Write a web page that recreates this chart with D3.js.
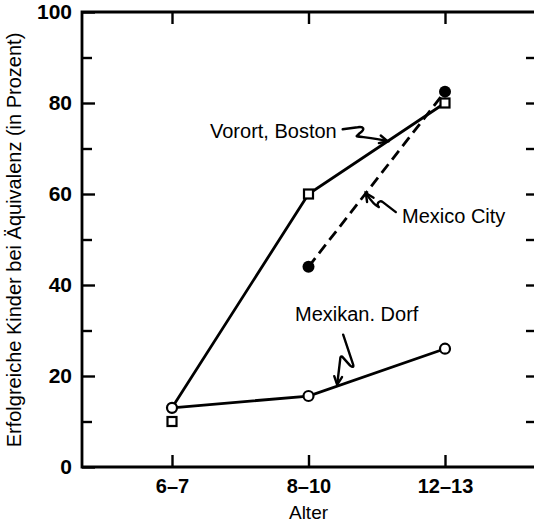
<!DOCTYPE html>
<html>
<head>
<meta charset="utf-8">
<script src="https://cdn.jsdelivr.net/npm/d3@7"></script>
<style>
  body { margin: 0; background: #fff; }
  text { font-family: "Liberation Sans", Arial, sans-serif; fill: #000; }
</style>
</head>
<body>
<div id="figure"></div>
<script>
const width = 534,
      height = 523;

// Data.
const ages = ["6–7", "8–10", "12–13"];
const boston = [10, 60, 80];          // Vorort, Boston (squares)
const mexicoCity = [null, 44, 82.5];  // Mexico City (filled dots, dashed)
const dorf = [13, 15.6, 26];          // Mexikan. Dorf (open circles)
const yMajor = [0, 20, 40, 60, 80, 100];
const yMinor = [10, 30, 50, 70, 90];

// Plot frame.
const frame = {left: 82, right: 534, top: 12, bottom: 467};

const svg = d3.select("#figure").append("svg")
    .attr("width", width)
    .attr("height", height);

// Ages are evenly spaced, so a linear scale over the index.
const x = d3.scaleLinear()
    .domain([0, ages.length - 1])
    .range([172, 445]);

const y = d3.scaleLinear()
    .domain([0, 100])
    .range([frame.bottom, frame.top]);

// Frame lines.
svg.append("path")
    .attr("d", `M${frame.right},${frame.top}H${frame.left}V${frame.bottom}H${frame.right}`)
    .attr("fill", "none")
    .attr("stroke", "#000")
    .attr("stroke-width", 2.8);

// Axes: ticks pointing inward.
function styleAxis(g) {
    g.select(".domain").remove();
    g.selectAll("line").attr("stroke", "#000").attr("stroke-width", 2.4);
}

svg.append("g")
    .attr("transform", `translate(${frame.left},0)`)
    .call(d3.axisLeft(y).tickValues(yMajor).tickSize(-13).tickPadding(10))
    .call(styleAxis)
    .call(g => g.selectAll("text")
        .attr("font-size", 21)
        .attr("font-weight", "bold"));

svg.append("g")
    .attr("transform", `translate(${frame.left},0)`)
    .call(d3.axisLeft(y).tickValues(yMinor).tickSize(-10).tickFormat(""))
    .call(styleAxis);

svg.append("g")
    .attr("transform", `translate(${frame.right},0)`)
    .call(d3.axisRight(y).tickValues(yMajor.concat(yMinor).filter(v => v > 0 && v < 100)).tickSize(-8).tickFormat(""))
    .call(styleAxis);

svg.append("g")
    .attr("transform", `translate(0,${frame.bottom})`)
    .call(d3.axisBottom(x).tickValues(d3.range(ages.length)).tickFormat(i => ages[i]).tickSize(-12).tickPadding(12))
    .call(styleAxis)
    .call(g => g.selectAll("text")
        .attr("font-size", 20)
        .attr("font-weight", "bold"));

svg.append("g")
    .attr("transform", `translate(0,${frame.top})`)
    .call(d3.axisTop(x).tickValues(d3.range(ages.length)).tickFormat("").tickSize(-12))
    .call(styleAxis);

// Axis titles.
svg.append("text")
    .attr("x", x(1))
    .attr("y", 519)
    .attr("text-anchor", "middle")
    .attr("font-size", 19)
    .text("Alter");

svg.append("text")
    .attr("transform", `translate(21,240) rotate(-90)`)
    .attr("text-anchor", "middle")
    .attr("font-size", 20)
    .text("Erfolgreiche Kinder bei Äquivalenz (in Prozent)");

// Lines.
const line = d3.line()
    .defined(d => d.v != null)
    .x(d => x(d.i))
    .y(d => y(d.v));

const toPts = arr => arr.map((v, i) => ({i, v}));

// In the original the Boston line starts at the shared 6-7 point of the village line.
const bostonLine = toPts(boston).map((d, i) => i === 0 ? {i: 0, v: dorf[0]} : d);

const plot = svg.append("g");

plot.append("path")
    .attr("d", line(bostonLine))
    .attr("fill", "none").attr("stroke", "#000").attr("stroke-width", 2.8);

plot.append("path")
    .attr("d", line(toPts(dorf)))
    .attr("fill", "none").attr("stroke", "#000").attr("stroke-width", 2.8);

plot.append("path")
    .attr("d", line(toPts(mexicoCity).filter(d => d.v != null)))
    .attr("fill", "none").attr("stroke", "#000").attr("stroke-width", 2.8)
    .attr("stroke-dasharray", "11,6");

// Markers.
plot.selectAll(".dorf")
    .data(toPts(dorf))
    .join("circle")
    .attr("class", "dorf")
    .attr("cx", d => x(d.i)).attr("cy", d => y(d.v))
    .attr("r", 5)
    .attr("fill", "#fff").attr("stroke", "#000").attr("stroke-width", 2.2);

plot.selectAll(".boston")
    .data(toPts(boston))
    .join("rect")
    .attr("class", "boston")
    .attr("x", d => x(d.i) - 4.5).attr("y", d => y(d.v) - 4.5)
    .attr("width", 9).attr("height", 9)
    .attr("fill", "#fff").attr("stroke", "#000").attr("stroke-width", 2.2);

plot.selectAll(".mexcity")
    .data(toPts(mexicoCity).filter(d => d.v != null))
    .join("circle")
    .attr("class", "mexcity")
    .attr("cx", d => x(d.i)).attr("cy", d => y(d.v))
    .attr("r", 6)
    .attr("fill", "#000");

// Labels with squiggly arrows; tip lies on the line at (index, value).
const labels = [
    {text: "Vorort, Boston", lx: 210, ly: 138, tip: [1.58, 71.6],
     path: "M-45,-12 L-30,-14 C-24,-15 -22,-12 -28,-8 L-31,-5 C-25,-4 -12,-3 0,0", dir: [-12, -3]},
    {text: "Mexico City", lx: 402, ly: 223, tip: [1.42, 60.2],
     path: "M30,19 L17,9 C13,6 10,12 13,14 C8,12 4,6 0,0", dir: [4, 6]},
    {text: "Mexikan. Dorf", lx: 295, ly: 321, tip: [1.21, 18.1],
     path: "M6,-50 L16,-20 Q17,-16 13,-19 L5,-28 Q3,-29 3,-25 L0,0", dir: [3, -25]}
];

labels.forEach(l => {
    svg.append("text")
        .attr("x", l.lx).attr("y", l.ly)
        .attr("font-size", 20)
        .text(l.text);

    const tx = x(l.tip[0]), ty = y(l.tip[1]);
    const g = svg.append("g").attr("transform", `translate(${tx},${ty})`);
    g.append("path")
        .attr("d", l.path)
        .attr("fill", "none").attr("stroke", "#000").attr("stroke-width", 2.4)
        .attr("stroke-linejoin", "round").attr("stroke-linecap", "round");
    // Arrowhead.
    const a = Math.atan2(l.dir[1], l.dir[0]);
    const h = 9, s = 0.45;
    g.append("path")
        .attr("d", `M${h * Math.cos(a - s)},${h * Math.sin(a - s)} L0,0 L${h * Math.cos(a + s)},${h * Math.sin(a + s)}`)
        .attr("fill", "none").attr("stroke", "#000").attr("stroke-width", 2.4)
        .attr("stroke-linecap", "round");
});
</script>
</body>
</html>
